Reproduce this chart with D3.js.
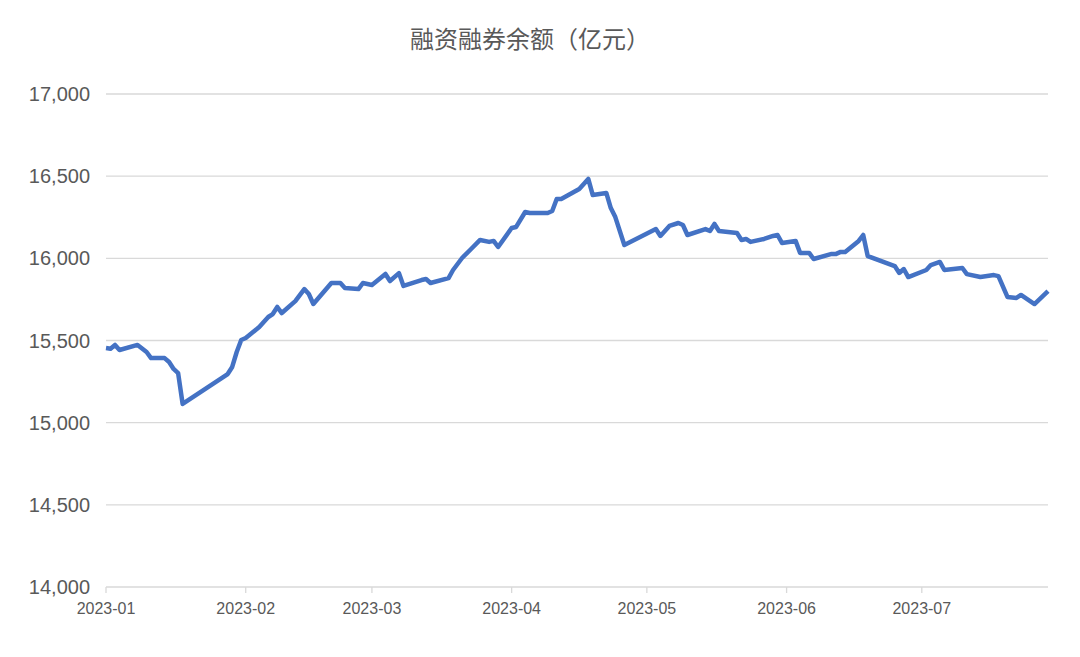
<!DOCTYPE html>
<html><head><meta charset="utf-8">
<script src="https://cdn.jsdelivr.net/npm/d3@7"></script>
<style>body{margin:0;background:#fff}</style></head>
<body><svg id="c" width="1080" height="657"></svg>
<script>
const title = "融资融券余额（亿元）";
const dates = ["2023-01-01","2023-01-02","2023-01-03","2023-01-04","2023-01-08","2023-01-10","2023-01-11","2023-01-14","2023-01-15","2023-01-16","2023-01-17","2023-01-18","2023-01-28","2023-01-29","2023-01-30","2023-01-31","2023-02-01","2023-02-04","2023-02-06","2023-02-07","2023-02-08","2023-02-09","2023-02-12","2023-02-14","2023-02-15","2023-02-16","2023-02-20","2023-02-22","2023-02-23","2023-02-26","2023-02-27","2023-03-01","2023-03-04","2023-03-05","2023-03-07","2023-03-08","2023-03-12","2023-03-13","2023-03-14","2023-03-18","2023-03-19","2023-03-21","2023-03-23","2023-03-25","2023-03-27","2023-03-28","2023-03-29","2023-04-01","2023-04-02","2023-04-04","2023-04-05","2023-04-09","2023-04-10","2023-04-11","2023-04-12","2023-04-16","2023-04-17","2023-04-18","2023-04-19","2023-04-22","2023-04-23","2023-04-24","2023-04-26","2023-05-03","2023-05-04","2023-05-06","2023-05-08","2023-05-09","2023-05-10","2023-05-14","2023-05-15","2023-05-16","2023-05-17","2023-05-21","2023-05-22","2023-05-23","2023-05-24","2023-05-27","2023-05-29","2023-05-30","2023-05-31","2023-06-03","2023-06-04","2023-06-06","2023-06-07","2023-06-11","2023-06-12","2023-06-13","2023-06-14","2023-06-17","2023-06-18","2023-06-19","2023-06-25","2023-06-26","2023-06-27","2023-06-28","2023-07-02","2023-07-03","2023-07-05","2023-07-06","2023-07-10","2023-07-11","2023-07-14","2023-07-17","2023-07-18","2023-07-20","2023-07-22","2023-07-23","2023-07-26","2023-07-29"];
const values = [15454,15450,15473,15442,15473,15430,15393,15393,15369,15327,15302,15114,15296,15339,15430,15503,15515,15582,15643,15661,15704,15667,15740,15813,15783,15722,15850,15850,15820,15813,15850,15838,15905,15862,15910,15832,15868,15874,15850,15880,15929,16002,16057,16112,16100,16106,16069,16185,16191,16282,16276,16276,16288,16361,16361,16422,16452,16483,16385,16398,16306,16251,16081,16178,16136,16197,16215,16203,16142,16178,16166,16209,16166,16154,16112,16118,16100,16118,16136,16142,16093,16106,16033,16033,15996,16027,16027,16039,16039,16106,16142,16014,15953,15911,15935,15886,15929,15959,15978,15929,15941,15904,15886,15898,15892,15765,15759,15777,15722,15801];
const yTicks = [14000,14500,15000,15500,16000,16500,17000];
const xTicks = ["2023-01-01","2023-02-01","2023-03-01","2023-04-01","2023-05-01","2023-06-01","2023-07-01"];

const p = d3.timeParse("%Y-%m-%d");
const svg = d3.select("#c");
const L=106,R=1048,T=94,B=587;
const x = d3.scaleTime().domain([p("2023-01-01"),p("2023-07-29")]).range([L,R]);
const y = d3.scaleLinear().domain([14000,17000]).range([B,T]);
const g="#d9d9d9", tc="#595959";
svg.append("g").selectAll("line").data(yTicks).join("line")
 .attr("x1",L).attr("x2",R).attr("y1",d=>y(d)).attr("y2",d=>y(d)).attr("stroke",g).attr("stroke-width",1.3);
svg.append("g").selectAll("text").data(yTicks).join("text")
 .attr("x",90).attr("y",d=>y(d)+7).attr("text-anchor","end").attr("fill",tc)
 .attr("font-family","Liberation Sans, Arial, sans-serif").attr("font-size",20).text(d3.format(","));
svg.append("g").selectAll("line").data(xTicks).join("line")
 .attr("x1",d=>x(p(d))).attr("x2",d=>x(p(d))).attr("y1",B).attr("y2",B+6).attr("stroke",g).attr("stroke-width",1.3);
svg.append("g").selectAll("text").data(xTicks).join("text")
 .attr("x",d=>x(p(d))).attr("y",B+27).attr("text-anchor","middle").attr("fill",tc)
 .attr("font-family","Liberation Sans, Arial, sans-serif").attr("font-size",16).text(d=>d.slice(0,7));
svg.append("path").datum(dates.map((d,i)=>[p(d),values[i]]))
 .attr("d",d3.line().x(d=>x(d[0])).y(d=>y(d[1])))
 .attr("fill","none").attr("stroke","#4472C4").attr("stroke-width",4.5).attr("stroke-linejoin","round");
svg.append("text").attr("x",530).attr("y",48).attr("text-anchor","middle").attr("fill",tc)
 .attr("font-family","Noto Sans CJK SC").attr("font-size",24).text(title);
</script></body></html>
